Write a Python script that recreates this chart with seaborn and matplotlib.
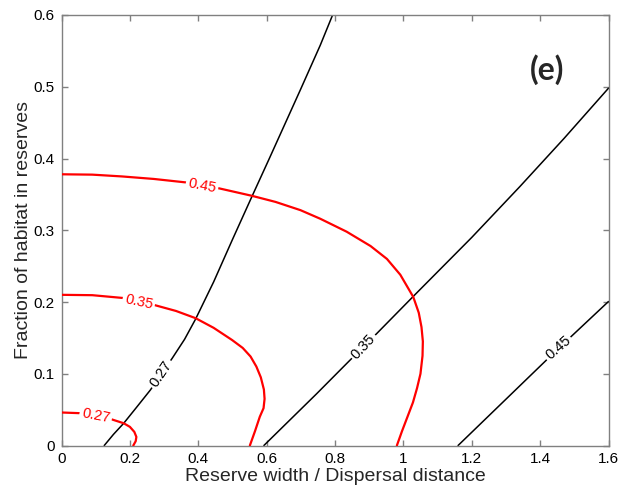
import matplotlib
matplotlib.use("Agg")
import matplotlib.pyplot as plt
import seaborn as sns
import pandas as pd

# Contour levels of the two response surfaces
red_levels = ["0.27", "0.35", "0.45"]
black_levels = ["0.27", "0.35", "0.45"]

# Red contours (traced along each level)
red_027_x = [0.0, 0.056, 0.143, 0.182, 0.200, 0.213, 0.219, 0.217, 0.210]
red_027_y = [0.046, 0.045, 0.037, 0.031, 0.026, 0.019, 0.012, 0.006, 0.0]

red_035_x = [0.0, 0.090, 0.182, 0.270, 0.335, 0.392, 0.445, 0.499, 0.530, 0.553, 0.570,
             0.583, 0.592, 0.594, 0.591, 0.580, 0.566, 0.551]
red_035_y = [0.210, 0.2095, 0.2055, 0.196, 0.1875, 0.1775, 0.164, 0.147, 0.136, 0.124, 0.110,
             0.095, 0.078, 0.065, 0.052, 0.040, 0.020, 0.0]

red_045_x = [0.0, 0.090, 0.177, 0.270, 0.363, 0.460, 0.557, 0.626, 0.699, 0.757, 0.834,
             0.904, 0.952, 0.991, 1.029, 1.045, 1.053, 1.057, 1.056, 1.050, 1.040,
             1.028, 1.012, 0.996, 0.981]
red_045_y = [0.378, 0.3775, 0.375, 0.3715, 0.3667, 0.3585, 0.348, 0.3395, 0.328, 0.316, 0.298,
             0.278, 0.260, 0.238, 0.207, 0.185, 0.165, 0.145, 0.125, 0.100, 0.080,
             0.060, 0.040, 0.020, 0.0]

# Black contours
black_027_x = [0.125, 0.152, 0.182, 0.220, 0.260, 0.324, 0.360, 0.392, 0.445, 0.500,
               0.557, 0.606, 0.699, 0.757, 0.793]
black_027_y = [0.0, 0.0155, 0.031, 0.0535, 0.0774, 0.1217, 0.148, 0.176, 0.228, 0.287,
               0.347, 0.398, 0.496, 0.558, 0.6]

black_035_x = [0.592, 0.746, 0.844, 0.922, 1.019, 1.048, 1.200, 1.341, 1.470, 1.6]
black_035_y = [0.0, 0.072, 0.119, 0.156, 0.203, 0.217, 0.290, 0.361, 0.428, 0.498]

black_045_x = [1.16, 1.453, 1.6]
black_045_y = [0.0, 0.135, 0.2007]

# Inline label anchors (x, y, rotation)
red_label_pos = [(0.100, 0.041, -11), (0.226, 0.2005, -12), (0.411, 0.362, -11)]
black_label_pos = [(0.292, 0.0995, 56), (0.883, 0.138, 47), (1.453, 0.136, 41)]

x_ticks = [0, 0.2, 0.4, 0.6, 0.8, 1, 1.2, 1.4, 1.6]
x_tick_labels = ["0", "0.2", "0.4", "0.6", "0.8", "1", "1.2", "1.4", "1.6"]
y_ticks = [0, 0.1, 0.2, 0.3, 0.4, 0.5, 0.6]
y_tick_labels = ["0", "0.1", "0.2", "0.3", "0.4", "0.5", "0.6"]

sns.set_theme(style="white")
plt.rcParams["font.family"] = ["Liberation Sans", "DejaVu Sans"]

fig = plt.figure(figsize=(6.26, 4.91), dpi=100)
ax = fig.add_axes([61.5 / 626, 1 - 445.5 / 491, 547 / 626, 430.5 / 491])

red_curves = [(red_027_x, red_027_y), (red_035_x, red_035_y), (red_045_x, red_045_y)]
black_curves = [(black_027_x, black_027_y), (black_035_x, black_035_y), (black_045_x, black_045_y)]

for (xs, ys) in black_curves:
    df = pd.DataFrame({"x": xs, "y": ys})
    sns.lineplot(data=df, x="x", y="y", sort=False, estimator=None,
                 color="black", lw=1.1, ax=ax, zorder=2)
for (xs, ys) in red_curves:
    df = pd.DataFrame({"x": xs, "y": ys})
    sns.lineplot(data=df, x="x", y="y", sort=False, estimator=None,
                 color="red", lw=1.6, ax=ax, zorder=3)

box = dict(boxstyle="square,pad=0.15", fc="white", ec="none")
for lab, (lx, ly, rot) in zip(red_levels, red_label_pos):
    ax.text(lx, ly, lab, color="red", fontsize=10.5, rotation=rot,
            rotation_mode="anchor", ha="center", va="center", bbox=box, zorder=4)
for lab, (lx, ly, rot) in zip(black_levels, black_label_pos):
    ax.text(lx, ly, lab, color="black", fontsize=10.5, rotation=rot,
            rotation_mode="anchor", ha="center", va="center", bbox=box, zorder=4)

ax.set_xlim(0, 1.6)
ax.set_ylim(0, 0.6)
ax.set_xticks(x_ticks)
ax.set_xticklabels(x_tick_labels)
ax.set_yticks(y_ticks)
ax.set_yticklabels(y_tick_labels)

for sp in ax.spines.values():
    sp.set_visible(True)
    sp.set_color("#808080")
    sp.set_linewidth(1.0)
ax.tick_params(axis="both", which="major", direction="in", length=4, width=1.0,
               color="#808080", labelcolor="black", labelsize=11, pad=5,
               top=True, right=True, bottom=True, left=True)

ax.set_xlabel("Reserve width / Dispersal distance", fontsize=14, labelpad=1)
ax.set_ylabel("Fraction of habitat in reserves", fontsize=14, labelpad=1)

ax.text(0.8876, 0.872, "(e)", transform=ax.transAxes, fontsize=23,
        fontweight="bold", family=["Lato", "DejaVu Sans"], ha="center", va="center")

fig.savefig("out.png", dpi=100)
